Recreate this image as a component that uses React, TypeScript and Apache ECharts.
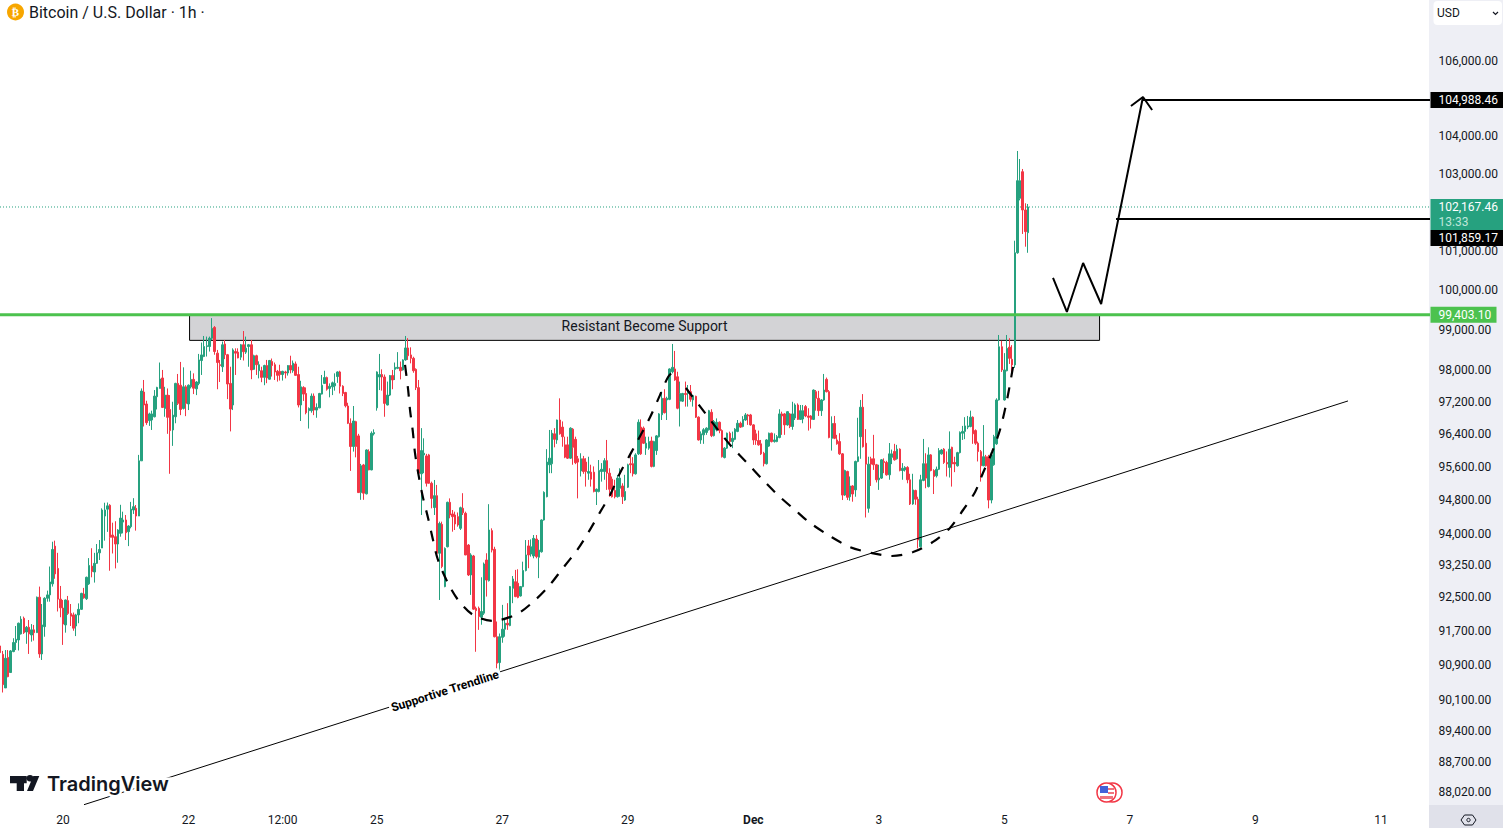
import React, { useEffect, useRef } from "react";
import * as echarts from "echarts";

// Hourly candles, [open, close, low, high], first candle at Nov 19 00:00.
const candlesA = [
[91375,91220,91050,91530],[91180,90480,90300,91260],[90405,91090,90405,91280],[91110,90665,90650,91280],[90760,91260,90760,91280],
[91245,91455,91230,91555],[91455,91530,91280,91840],[91515,91905,91270,91920],[91655,92000,91640,92070],[92020,91685,91655,92060],
[91700,91810,91425,91840],[91810,91655,91190,91980],[91630,91750,91475,91885],[91750,91685,91500,91865],[91685,92515,91685,92530],
[92515,91190,91100,92765],[91190,91865,91050,92355],[91825,92490,91590,92515],[92490,92570,92410,92670],[92570,92875,92410,93240],
[92830,93645,92765,93830],[93725,93065,92950,93855],[93195,92470,92180,93565],[92470,92265,92045,92780],[92260,91885,91400,92450],
[91865,92450,91685,92460],[92435,92135,92100,92545],[92135,92070,91840,92355],[92100,91790,91730,92155],[91840,92100,91605,92125],
[92100,92230,91905,92370],[92230,92605,92215,92620],[92590,92500,92480,92735],[92480,92985,92450,93000],[92830,93265,92805,93440],
[93250,93120,92985,93675],[93110,93315,92860,93565],[93315,93565,93300,93775],[93565,93645,93395,93870],[93680,94590,93680,94630],
[94445,94590,93855,94765],[94610,94690,94065,94770],[94705,93935,93140,94730],[93990,93935,93550,94285],[93950,93775,93195,94320],
[93775,94110,93330,94130],[94030,94395,93950,94715],[94300,94350,94030,94550],[94350,94045,93870,94470],[94070,94205,93725,94225],
[94190,94610,94150,94785],[94590,94670,94495,94875],[94630,94445,94095,94710],[94445,95780,94445,95925],[95780,97495,95780,97560],
[97470,97150,96620,97770],[97175,96715,96660,97255],[96765,96930,96635,96960],[96780,96930,96535,97010],[96860,97370,96845,97520],
[97355,97585,97040,97600],[97560,97795,97560,98205],[97820,97090,97075,98020],[97065,97395,96860,97600],[97395,96845,96440,97560],
[97040,96520,95465,97395],[96535,96900,96145,97230],[96860,97685,96700,97700],[97685,97190,97150,97920],[97640,97040,96900,98220],
[97065,97600,97040,98085],[97600,97190,96875,97640],[97175,97640,97025,97660],[97600,97785,97560,98000],[97785,97565,97420,97935],
[97550,97720,97395,97740],[97685,98270,97640,98420],[98255,98395,97895,98705],[98355,98605,98340,98870],[98605,98625,98355,98855],
];
const candlesB = [
[98605,98815,98480,98855],[98815,99060,98770,99320],[99085,98480,98400,99120],[98440,98205,97540,98520],[98150,98130,97720,98270],
[98100,98650,97970,98730],[98670,98400,98290,98770],[98400,97670,97295,98420],[97685,97050,96500,98100],[97150,98520,97025,98560],
[98480,98440,97895,98560],[98465,98320,98310,98560],[98340,98650,98270,98670],[98650,98475,98255,98995],[98465,98565,98420,98855],
[98605,98650,98100,98670],[98650,98020,97790,98770],[98035,98375,98020,98400],[98375,98150,97895,98400],[98000,98150,97810,98235],
[98000,97835,97715,98100],[97835,98130,97640,98150],[98130,97820,97690,98270],[97790,98255,97780,98270],[98230,98130,97855,98305],
[98150,97970,97770,98205],[97985,97885,97730,98020],[97985,97905,97755,98150],[97905,97985,97755,98000],[97970,97945,97810,98000],
[97945,98130,97880,98140],[98130,98020,97935,98375],[98000,98190,97950,98255],[98170,97885,97875,98230],[97905,97150,97090,98100],
[97150,97600,96755,97750],[97585,97420,97250,97615],[97435,96960,96920,97585],[97010,97065,96570,97090],[97010,97370,96960,97435],
[97370,97025,96900,97435],[97025,97090,96835,97190],[97080,97435,97070,97450],[97420,97640,97410,97895],[97685,97830,97680,98000],
[97830,97540,97505,97855],[97560,97615,97340,97685],[97600,97700,97395,97730],[97625,97685,97505,97935],[97855,97970,97700,97985],
[97970,97615,97435,98000],[97615,97435,97370,97640],[97460,97130,97090,97475],[97125,96700,96680,97205],[96700,96130,95535,96820],
[96130,96755,96005,97125],[96740,96130,95865,96760],[96390,95010,95000,96440],[95010,95660,94835,95705],[95680,94995,94835,95705],
[94980,96045,94965,96060],[96005,95560,95550,96060],[95560,96455,95550,96500],[96440,96470,96400,96550],[97080,97970,97010,97985],
[97845,97905,97520,98420],[97905,97845,97505,98035],[97845,97190,96860,97905],[97150,97395,97140,97730],[97395,97880,97370,97895],
[97880,97770,97540,98020],[98035,98085,97770,98205],[98060,98085,98040,98465],[98085,98000,97785,98230],[98020,98270,98005,98285],
[98270,98570,98250,98870],[98570,98375,98270,98815],
];
const candlesC = [
[98395,98310,98185,98585],[98310,98000,97950,98350],[98035,97580,97520,98060],[97580,95480,95465,97770],[95465,96030,94470,96580],
[95925,95965,95480,96330],[95900,95235,95155,95950],[95925,95235,95220,95950],[95235,94870,94630,95275],[94650,94935,94470,95315],
[94935,93555,93475,95195],[93555,94265,92450,94310],[94245,93240,93200,94310],[92765,93670,92750,93695],[93710,94775,93695,94790],
[94775,94470,94390,94870],[94495,94430,94070,94590],[94470,94255,94110,94550],[94430,94230,94190,94530],[94150,94645,94110,94670],
[94630,94525,94470,94995],[94510,93515,93510,94550],[93750,93040,93015,93775],[93040,93515,92570,93555],[93490,92235,92220,93515],
[92255,92200,91240,92295],[92255,92060,91750,92295],[92045,92180,91870,92985],[92140,93300,92100,93335],[93395,92920,92530,93555],
[92905,94110,92885,94730],[94095,93630,93575,94150],[93650,91590,91575,93710],[91590,90975,90745,91945],[90990,91590,90800,91665],
[91575,91765,91450,92335],[91765,91905,91590,92020],[91905,91865,91750,92375],[91850,92765,91835,92780],[92725,92945,92375,93015],
[92880,92530,92515,93160],[92845,92510,92490,93175],[92545,92765,92530,92780],[92765,93145,92750,93355],[93145,93515,93125,93870],
[93730,93515,93200,93870],[93535,93710,93475,93885],[93490,93910,93435,93990],[93895,93475,93435,93990],[93460,93630,92965,93870],
[93590,94350,93570,94365],[94350,95015,94335,95040],[94910,95750,94895,96065],[95685,95845,95480,96535],[95710,96455,95480,96535],
[96440,96305,96110,96580],[96290,96780,96195,96790],[96780,96440,96420,97315],[96605,96370,96125,96745],[96170,95870,95845,96370],
[96170,95845,95825,96370],[95845,96580,95825,96600],[96555,96110,95685,96580],[96305,95735,95700,96370],[95830,95750,94870,95900],
[95535,95830,95400,95965],[95830,95520,95465,95900],[95750,95520,95155,95845],[95480,95520,95320,95880],[95505,95335,95155,95685],
[95505,95035,95015,95645],[95035,95090,94710,95110],[95035,95545,95015,95800],[95520,95575,95275,95725],[95520,95785,95320,95845],
[95785,95480,95075,96290],
];
const candlesD = [
[95480,95090,94910,95600],[95335,94910,94890,95400],[95060,94910,94870,95320],[94910,95360,94890,95440],[95115,95360,94910,95600],
[95170,94910,94735,95235],[94830,95035,94810,95440],[95140,95685,95120,95710],[95710,95685,95480,95925],[95710,95465,95400,95870],
[95465,95925,95445,95965],[95950,96725,95925,96795],[96605,95950,95925,96795],[96580,96210,96190,96620],[96090,96210,95925,96370],
[96090,96250,96050,96370],[96265,95645,95620,96370],[95645,96250,95625,96270],[96030,96390,95925,96410],[96370,96930,96350,96950],
[96910,97315,96780,97480],[97315,96960,96940,97540],[97275,97315,96780,97355],[97290,98045,97270,98060],[97975,98085,97935,98670],
[98045,97770,97750,98495],[97850,97070,97045,97975],[97245,97435,96620,97730],[97245,97435,97225,97450],[97435,97410,97110,97730],
[97435,97520,97110,97645],[97480,97290,97230,97645],[97275,97380,97110,97400],[97365,96850,96830,97380],[96850,96290,96275,96870],
[96290,96440,96195,96500],[96415,96540,96195,96580],[96475,96580,96415,96600],[96540,97010,96520,97030],[96970,96395,96360,97045],
[96395,96745,96375,96780],[96540,96725,96500,96820],[96725,96520,96455,96745],[96520,95880,95860,96550],[95860,96090,95840,96115],
[96090,96455,96070,96470],[96455,96250,96195,96495],[96250,96330,96090,96495],[96305,96555,96285,96580],[96500,96700,96480,96780],
[96700,96605,96585,96740],[96620,96795,96600,96875],[96780,96905,96760,96950],[96905,96880,96660,96930],[96905,96660,96640,96930],
[96660,96290,96170,96680],[96440,96275,96170,96540],[96275,96170,96150,96520],[96195,95950,95925,96290],[95965,95710,95645,96000],
[95710,96290,95690,96310],[96140,96455,96120,96470],[96455,96250,96230,96470],[96250,96290,96225,96450],[96250,96370,96235,96410],
[96350,96930,96330,97045],[96930,96880,96415,96985],[96930,96660,96415,96950],[96660,96985,96640,97000],[96930,96620,96580,96950],
[96620,96930,96540,97230],[96830,97150,96780,97190],[97150,96795,96780,97190],
];
const candlesE = [
[96795,97010,96780,97150],[96805,97010,96700,97150],[97110,96880,96850,97150],[96880,96845,96520,97070],[96880,96795,96570,96900],
[96795,97520,96780,97535],[97480,97315,97010,97520],[97315,97010,96880,97500],[97010,97275,96880,97295],[97275,97520,97255,97920],
[97785,97480,97460,97830],[97480,96350,96330,97520],[96330,96695,96030,96870],[96695,96330,96310,96880],[96290,96195,96175,96415],
[96250,95950,95925,96455],[95950,94950,94830,95970],[94950,95545,94930,95565],[95520,94895,94830,95540],[94910,95170,94815,95400],
[95170,94975,94790,95190],[95075,95765,94910,95785],[95765,95880,95745,96835],[96370,97095,95830,97275],[97095,96125,96105,97420],
[96210,95700,94410,96555],[94630,95700,94525,95880],[95830,95700,95170,95880],[95830,95685,95560,96415],[95685,95320,95255,95705],
[95320,95360,95075,95685],[95360,95805,95340,95825],[95765,95740,95480,95840],[95740,95440,95420,95780],[95440,95950,95320,96215],
[95865,95950,95700,96055],[96010,95805,95785,96195],[95830,96065,95810,96170],[96065,95545,95525,96085],[95545,95600,95320,95725],
[95560,95620,95520,95650],[95620,95320,95235,95650],[95320,94735,94710,95465],[94735,95075,94715,95465],[95060,94850,94715,95080],
[94850,93870,93670,94910],[93710,95320,93690,95440],[95305,95710,95285,96315],[95710,95360,95115,95965],[95155,95925,95135,96110],
[95925,95545,95525,95945],[95545,95400,94975,95575],[95415,95575,95375,95640],[95575,96030,95555,96090],[95950,96045,95930,96070],
[96065,95740,95705,96090],[95740,95705,95400,96010],[95620,96065,95375,96500],[96110,95705,95155,96125],[95740,95705,95505,95880],
[95660,95980,95640,96000],[95980,96475,95960,96500],[96455,96500,96290,96635],[96500,96635,96310,96850],[96605,96635,96555,96880],
[96620,96850,96600,97010],[96850,96440,96195,96870],[96520,96210,96170,96550],[96210,96005,95765,96250],[96005,95660,95275,96045],
[95660,95880,95650,96655],[95880,95660,95640,95925],[95880,94830,94630,95925],[94830,95925,94750,95965],[95685,96370,95660,96415],
[96195,97275,96170,97315],[97275,98600,97260,98895],[98600,98020,97970,98750],[97275,98020,97260,98440],[98000,98560,97985,98895],
[98590,98310,98170,98815],[98285,98145,97970,98640],[98145,100985,98070,101295],[100985,102853,100960,103633],[102394,102853,102340,103422],
[103088,102090,101469,103160],[102090,101529,101141,102264],[101502,102167.46,100985,102246],
];
const candleRows = [...candlesA, ...candlesB, ...candlesC, ...candlesD, ...candlesE];

// Axis ticks
const xTickHours = [24, 72, 108, 144, 192, 240, 288, 336, 384, 432, 480, 528];
const xTickLabels = ["20", "22", "12:00", "25", "27", "29", "Dec", "3", "5", "7", "9", "11"];
const priceTicks = [106000, 104000, 103000, 101000, 100000, 99000, 98000, 97200, 96400, 95600, 94800, 94000, 93250, 92500, 91700, 90900, 90100, 89400, 88700, 88020];

// Drawings: [hour, price]
const leftCup = [[154.8,98145],[156,97520],[156.7,97030],[157.8,96485],[158.6,95975],[160.1,95390],[161.7,94880],[163.6,94400],[165.5,93870],[167.4,93395],[171.2,92850],[175.1,92450],[180.8,92100],[188.5,91960],[197.6,92120],[203.7,92400],[209.5,92755],[215.2,93205],[220.6,93630],[224.8,94040],[229.4,94540],[233.2,94950],[237,95485],[240.8,95925],[243.9,96290],[248.5,96850],[252.3,97395],[255.4,97845],[258,98020]];
const rightCup = [[262.2,97570],[269.5,96955],[274.5,96535],[279.8,96120],[285.6,95730],[291.7,95315],[297.4,94950],[303.9,94590],[309.7,94280],[317.3,93965],[325,93700],[333.4,93560],[341,93490],[349.1,93585],[356.7,93825],[363.2,94160],[368.2,94590],[372.8,95025],[375.8,95485],[379.3,95995],[382.3,96535],[385,97275],[387.3,98095]];
const zigzag = [[402.6,100340],[407.9,99476],[414.1,100722],[421,99678],[437,105066]];
const arrowHead = [[432.4,104826],[437,105066],[440.5,104720]];
const trendLine = [[32.03,87760],[515.4,97250]];
const trendLabelPoint = [[170.1,90335]];
const supportZone = { fromHour: 72.4, toHour: 420.4, top: 99403.1, bottom: 98760 };

const targetPrice = 104988.46;
const entryPrice = 101859.17;
const supportPrice = 99403.1;
const lastPrice = 102167.46;
const AXIS_END = 546.76;

const money = (v: number) => v.toLocaleString("en-US", { minimumFractionDigits: 2, maximumFractionDigits: 2 });
const FONT = "Roboto";
const INK = "#131722";
const UP = "#26A17F";
const DOWN = "#F23645";
const LOGO_D = "M0 0H16.7V7.3H14V15H6.7V7.3H0ZM23.3 2.3A3.3 3.3 0 1 1 16.7 2.3A3.3 3.3 0 1 1 23.3 2.3ZM23.3 0H29.3L23 15H17Z";

echarts.graphic.registerShape("tvlogo", echarts.graphic.extendPath(LOGO_D, {}) as any);

export default function App() {
  const ref = useRef<HTMLDivElement>(null);
  useEffect(() => {
    const chart = echarts.init(ref.current!, undefined, { renderer: "svg" });
    const hline = (name: string, from: number, price: number, color: string, width: number, type: any = "solid", z = 4) => ({
      name, type: "line", xAxisIndex: 0, yAxisIndex: 0, showSymbol: false, symbol: "none", z, silent: true,
      data: [[from, price], [AXIS_END, price]], lineStyle: { color, width, type },
    });
    const tag = (price: number, text: string, bg: string, w: number, z: number, dy = 0) => ({
      type: "scatter", xAxisIndex: 2, yAxisIndex: 2, z, symbolSize: 1, itemStyle: { color: "rgba(0,0,0,0)", opacity: 1 }, silent: true,
      data: [[0, price]],
      label: {
        show: true, position: "right", distance: 0, offset: [0, dy], formatter: text, backgroundColor: bg, color: "#fff", opacity: 1,
        fontFamily: FONT, fontSize: 12, lineHeight: 14, width: w, padding: [1, 0, 1, 8], align: "left",
      },
    });
    chart.setOption({
      animation: false,
      backgroundColor: "#ffffff",
      grid: [
        { left: 0, top: 0, width: 1430, height: 805 },
        { left: 1429, top: 0, width: 74, height: 805, show: true, backgroundColor: "#EEEFF5", borderWidth: 0 },
        { left: 1430, top: 0, width: 73, height: 805 },
      ],
      xAxis: [
        {
          gridIndex: 0, type: "value", min: -0.092, max: AXIS_END, splitLine: { show: false }, axisLine: { show: false }, axisTick: { show: false },
          axisLabel: {
            margin: 9, color: INK, fontFamily: FONT, fontSize: 12, customValues: xTickHours,
            formatter: (v: number) => {
              const s = xTickLabels[xTickHours.indexOf(v)] ?? "";
              return s === "Dec" ? "{d|Dec}" : s;
            },
            rich: { d: { fontWeight: "bold", fontFamily: FONT, fontSize: 12, color: INK } },
          },
        },
        { gridIndex: 1, type: "value", min: 0, max: 74, show: false },
        { gridIndex: 2, type: "value", min: 0, max: 73, show: false },
      ],
      yAxis: [
        { gridIndex: 0, type: "log", min: 87753, max: 107690, show: false, splitLine: { show: false } },
        { gridIndex: 1, type: "log", min: 87731, max: 107663, show: false, splitLine: { show: false } },
        { gridIndex: 2, type: "log", min: 87753, max: 107690, show: false, splitLine: { show: false } },
      ],
      series: [
        {
          name: "zone", type: "line", xAxisIndex: 0, yAxisIndex: 0, data: [], z: 1, silent: true,
          markArea: {
            silent: true,
            itemStyle: { color: "#D3D3D6", borderColor: "#000", borderWidth: 1 },
            label: { show: true, position: "inside", offset: [0, -2], formatter: "Resistant Become Support", color: INK, fontFamily: FONT, fontSize: 14 },
            data: [[{ coord: [supportZone.fromHour, supportZone.top] }, { coord: [supportZone.toHour, supportZone.bottom] }]],
          },
        },
        {
          name: "BTCUSD", type: "candlestick", xAxisIndex: 0, yAxisIndex: 0, z: 2, barWidth: 2, silent: true,
          itemStyle: { color: UP, color0: DOWN, borderColor: UP, borderColor0: DOWN, borderWidth: 1 },
          data: candleRows.map((r, i) => [i, r[0], r[1], r[2], r[3]]),
        },
        hline("last", -0.092, lastPrice, UP, 1, [1, 2], 2),
        hline("support", -0.092, supportPrice, "#4CC24E", 3),
        hline("target", 437, targetPrice, "#000", 2),
        hline("entry", 426.7, entryPrice, "#000", 2),
        { name: "trend", type: "line", xAxisIndex: 0, yAxisIndex: 0, z: 3, showSymbol: false, symbol: "none", silent: true, data: trendLine, lineStyle: { color: "#000", width: 1 } },
        { name: "cup1", type: "line", xAxisIndex: 0, yAxisIndex: 0, z: 5, smooth: 0.3, showSymbol: false, symbol: "none", silent: true, data: leftCup, lineStyle: { color: "#000", width: 2.2, type: [11, 10] } },
        { name: "cup2", type: "line", xAxisIndex: 0, yAxisIndex: 0, z: 5, smooth: 0.3, showSymbol: false, symbol: "none", silent: true, data: rightCup, lineStyle: { color: "#000", width: 2.2, type: [11, 10] } },
        { name: "path", type: "line", xAxisIndex: 0, yAxisIndex: 0, z: 5, showSymbol: false, symbol: "none", silent: true, data: zigzag, lineStyle: { color: "#000", width: 2 } },
        { name: "head", type: "line", xAxisIndex: 0, yAxisIndex: 0, z: 5, showSymbol: false, symbol: "none", silent: true, data: arrowHead, lineStyle: { color: "#000", width: 2 } },
        {
          name: "trendLabel", type: "scatter", xAxisIndex: 0, yAxisIndex: 0, z: 6, symbolSize: 1, silent: true, itemStyle: { color: "rgba(0,0,0,0)", opacity: 1 },
          data: trendLabelPoint,
          label: { show: true, position: "inside", rotate: 17.7, formatter: "Supportive Trendline", color: "#000", opacity: 1, fontFamily: FONT, fontWeight: "bold", fontSize: 12, backgroundColor: "#fff", padding: [0, 2] },
        },
        {
          name: "priceTicks", type: "scatter", xAxisIndex: 1, yAxisIndex: 1, z: 2, symbolSize: 1, silent: true, itemStyle: { color: "rgba(0,0,0,0)", opacity: 1 },
          data: priceTicks.map((p) => [9, p]),
          label: { show: true, position: "right", distance: 0, formatter: (o: any) => money(o.value[1]), color: INK, opacity: 1, fontFamily: FONT, fontSize: 12 },
        },
        {
          type: "scatter", xAxisIndex: 2, yAxisIndex: 2, z: 3, symbolSize: 1, itemStyle: { color: "rgba(0,0,0,0)", opacity: 1 }, silent: true,
          data: [[0, lastPrice]],
          label: {
            show: true, position: "right", distance: 0, offset: [0, 7.5], formatter: `{a|${money(lastPrice)}}\n{b|13:33}`, opacity: 1,
            backgroundColor: UP, width: 65, padding: [1, 0, 1, 8], align: "left",
            rich: {
              a: { color: "#fff", fontFamily: FONT, fontSize: 12, lineHeight: 14.5 },
              b: { color: "#BFE6DA", fontFamily: FONT, fontSize: 12, lineHeight: 14.5 },
            },
          },
        },
        tag(targetPrice, money(targetPrice), "#000", 65, 4),
        tag(entryPrice, money(entryPrice), "#000", 65, 4, 19),
        tag(supportPrice, money(supportPrice), "#4CC24E", 58, 4),
      ],
      graphic: [
        { type: "circle", z: 20, shape: { cx: 15.5, cy: 12, r: 8.5 }, style: { fill: "#F7A600" } },
        { type: "text", z: 21, x: 15.5, y: 12, style: { text: "₿", fill: "#fff", font: "bold 11px 'DejaVu Sans'", align: "center", verticalAlign: "middle" } },
        { type: "text", z: 21, x: 29, y: 12, style: { text: "Bitcoin / U.S. Dollar · 1h ·", fill: INK, font: `16px ${FONT}`, align: "left", verticalAlign: "middle" } },
        { type: "rect", z: 20, shape: { x: 1433.5, y: 1, width: 68.5, height: 24, r: 4 }, style: { fill: "#fff" } },
        { type: "text", z: 21, x: 1437, y: 13, style: { text: "USD", fill: INK, font: `12px ${FONT}`, align: "left", verticalAlign: "middle" } },
        { type: "polyline", z: 21, shape: { points: [[1493, 12], [1495.5, 14.5], [1498, 12]] }, style: { stroke: INK, lineWidth: 1.2, fill: "none" } },
        { type: "rect", z: 20, shape: { x: 1429, y: 805, width: 74, height: 23 }, style: { fill: "#E0E1EA" } },
        { type: "polygon", z: 21, shape: { points: [[1461, 820], [1464.5, 815], [1472.5, 815], [1476, 820], [1472.5, 825], [1464.5, 825]] }, style: { stroke: INK, lineWidth: 1, fill: "none" } },
        { type: "circle", z: 21, shape: { cx: 1468.5, cy: 820, r: 1.7 }, style: { stroke: INK, lineWidth: 1, fill: "none" } },
        { type: "tvlogo", z: 21, x: 10, y: 776, style: { fill: INK } },
        { type: "text", z: 21, x: 47, y: 784, style: { text: "TradingView", fill: INK, font: "600 20px Inter", align: "left", verticalAlign: "middle", stroke: "#fff", lineWidth: 5 } },
        { type: "circle", z: 20, shape: { cx: 1112.5, cy: 792.5, r: 9.5 }, style: { fill: "#fff", stroke: DOWN, lineWidth: 1.5 } },
        { type: "circle", z: 21, shape: { cx: 1106.5, cy: 792.5, r: 9.5 }, style: { fill: "#fff", stroke: DOWN, lineWidth: 1.5 } },
        { type: "rect", z: 22, shape: { x: 1100, y: 786, width: 8, height: 7 }, style: { fill: "#4361D8" } },
        { type: "rect", z: 22, shape: { x: 1108, y: 788, width: 6, height: 2 }, style: { fill: "#F0737D" } },
        { type: "rect", z: 22, shape: { x: 1108, y: 792, width: 6, height: 2 }, style: { fill: "#F0737D" } },
        { type: "rect", z: 22, shape: { x: 1100, y: 796, width: 13, height: 3 }, style: { fill: "#F0737D" } },
      ],
    });
    return () => chart.dispose();
  }, []);
  return <div ref={ref} style={{ position: "fixed", left: 0, top: 0, width: 1503, height: 828 }} />;
}
